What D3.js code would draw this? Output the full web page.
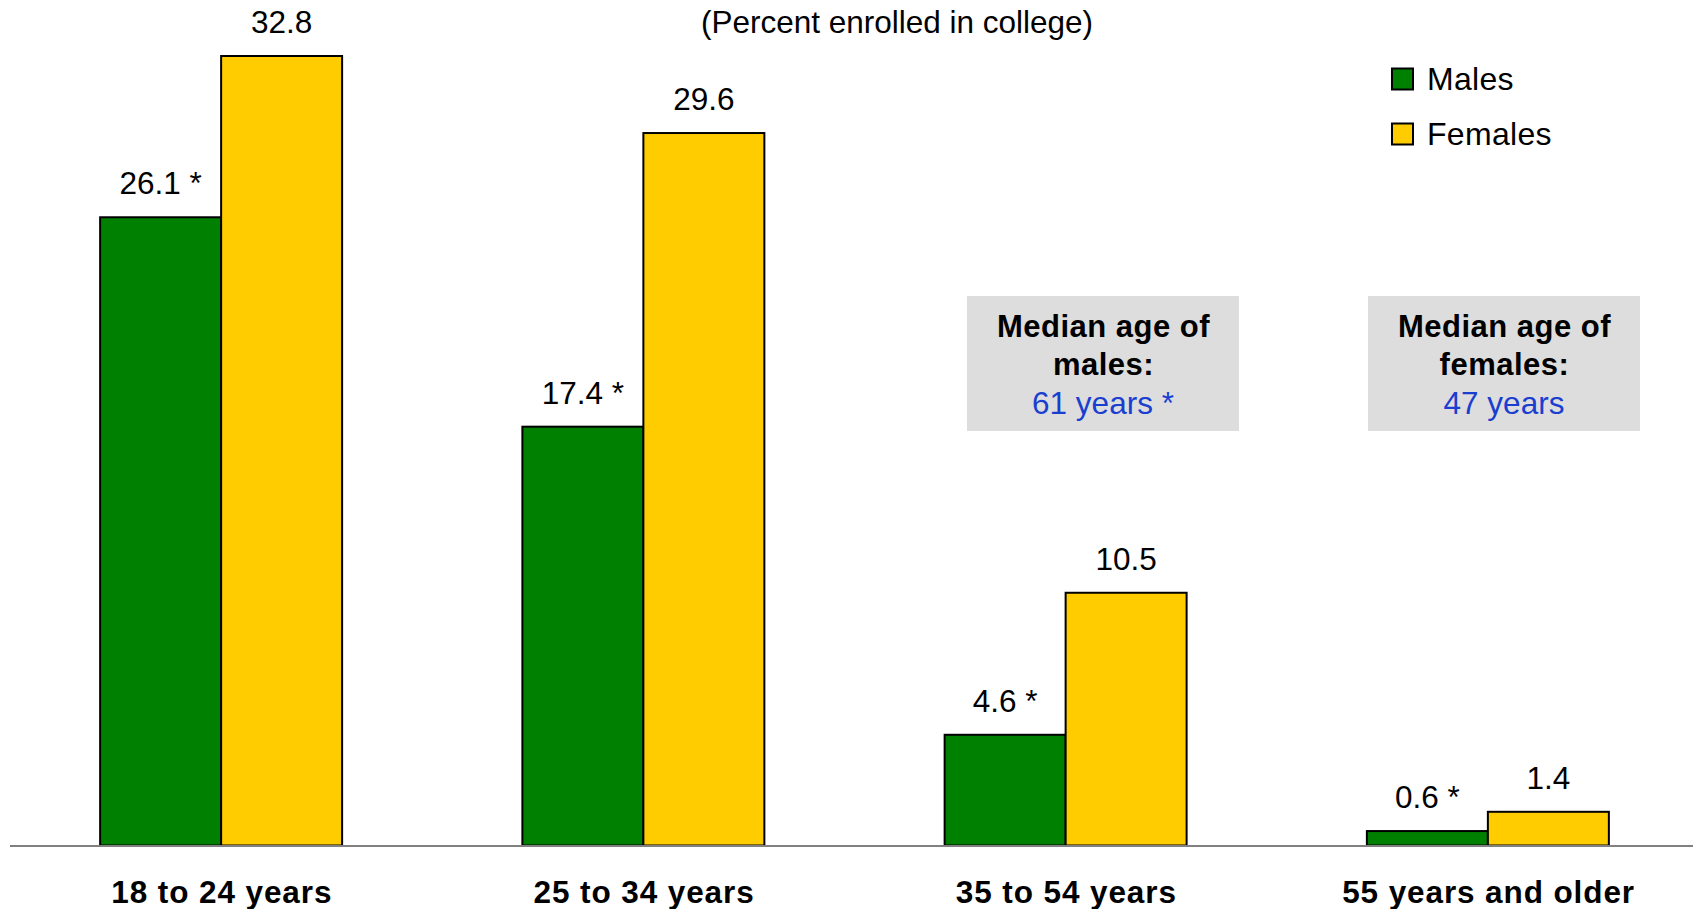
<!DOCTYPE html>
<html>
<head>
<meta charset="utf-8">
<script src="https://cdn.jsdelivr.net/npm/d3@7"></script>
<style>
  html, body { margin: 0; padding: 0; background: #ffffff; }
  svg { display: block; font-family: "Liberation Sans", Arial, sans-serif; }
</style>
</head>
<body>
<svg id="chart" width="1693" height="909"></svg>
<script>
// ---- data ----
const categories = ["18 to 24 years", "25 to 34 years", "35 to 54 years", "55 years and older"];
const seriesNames = ["Males", "Females"];
const males = [26.1, 17.4, 4.6, 0.6];
const females = [32.8, 29.6, 10.5, 1.4];
const maleLabels = ["26.1 *", "17.4 *", "4.6 *", "0.6 *"];
const femaleLabels = ["32.8", "29.6", "10.5", "1.4"];
const title = "(Percent enrolled in college)";
const notes = [
  { lines: ["Median age of", "males:"], value: "61 years *" },
  { lines: ["Median age of", "females:"], value: "47 years" }
];

// ---- styles ----
const colors = { Males: "#008000", Females: "#FFCC00" };

const svg = d3.select("#chart");
const W = 1693, H = 909;

const x0 = d3.scaleBand().domain(categories).range([10, 1699]).paddingInner(0).paddingOuter(0);
const x1 = d3.scaleBand().domain(seriesNames).range([0, x0.bandwidth()]).paddingInner(0).paddingOuter(0.745);
const y = d3.scaleLinear().domain([0, 35]).range([845.5, 845.5 - 35 * 24.07]);

const rows = categories.map((c, i) => ({
  cat: c,
  vals: [
    { s: "Males", v: males[i], label: maleLabels[i] },
    { s: "Females", v: females[i], label: femaleLabels[i] }
  ]
}));

// title
svg.append("text")
  .attr("x", 897).attr("y", 33)
  .attr("text-anchor", "middle")
  .attr("font-size", 31.5)
  .attr("fill", "#000")
  .text(title);

// bars
const g = svg.selectAll("g.grp").data(rows).join("g")
  .attr("class", "grp")
  .attr("transform", d => `translate(${x0(d.cat)},0)`);

g.selectAll("rect").data(d => d.vals).join("rect")
  .attr("x", d => x1(d.s))
  .attr("width", x1.bandwidth())
  .attr("y", d => y(d.v))
  .attr("height", d => y(0) - y(d.v))
  .attr("fill", d => colors[d.s])
  .attr("stroke", "#000")
  .attr("stroke-width", 2);

g.selectAll("text.val").data(d => d.vals).join("text")
  .attr("class", "val")
  .attr("x", d => x1(d.s) + x1.bandwidth() / 2)
  .attr("y", d => y(d.v) - 23)
  .attr("text-anchor", "middle")
  .attr("font-size", 31.5)
  .attr("fill", "#000")
  .text(d => d.label);

// baseline
svg.append("line")
  .attr("x1", 10).attr("x2", W)
  .attr("y1", y(0) + 0.5).attr("y2", y(0) + 0.5)
  .attr("stroke", "#808080")
  .attr("stroke-width", 2);

// category labels
svg.selectAll("text.cat").data(categories).join("text")
  .attr("class", "cat")
  .attr("x", d => x0(d) + x0.bandwidth() / 2 + 0.7)
  .attr("y", 903)
  .attr("text-anchor", "middle")
  .attr("font-size", 31.5)
  .attr("font-weight", "bold")
  .attr("letter-spacing", "0.9px")
  .attr("fill", "#000")
  .text(d => d);

// legend
const leg = svg.selectAll("g.leg").data(seriesNames).join("g")
  .attr("class", "leg")
  .attr("transform", (d, i) => `translate(1392,${68.5 + i * 55})`);
leg.append("rect")
  .attr("width", 21).attr("height", 21)
  .attr("fill", d => colors[d])
  .attr("stroke", "#000").attr("stroke-width", 2);
leg.append("text")
  .attr("x", 35).attr("y", 21.5)
  .attr("font-size", 32)
  .attr("letter-spacing", "0.3px")
  .attr("fill", "#000")
  .text(d => d);

// annotation boxes
const boxPos = [{ x: 967, y: 296 }, { x: 1368, y: 296 }];
const bw = 272, bh = 135;
const nb = svg.selectAll("g.note").data(notes).join("g")
  .attr("class", "note")
  .attr("transform", (d, i) => `translate(${boxPos[i].x},${boxPos[i].y})`);
nb.append("rect")
  .attr("width", bw).attr("height", bh)
  .attr("fill", "#DDDDDD");
nb.each(function(d) {
  const s = d3.select(this);
  d.lines.forEach((ln, j) => {
    s.append("text")
      .attr("x", bw / 2 + 0.5).attr("y", 41 + j * 38)
      .attr("text-anchor", "middle")
      .attr("font-size", 31)
      .attr("font-weight", "bold")
      .attr("letter-spacing", "0.5px")
      .attr("fill", "#000")
      .text(ln);
  });
  s.append("text")
    .attr("x", bw / 2).attr("y", 117.5)
    .attr("text-anchor", "middle")
    .attr("font-size", 31.5)
    .attr("fill", "#1A3FD0")
    .text(d.value);
});
</script>
</body>
</html>
